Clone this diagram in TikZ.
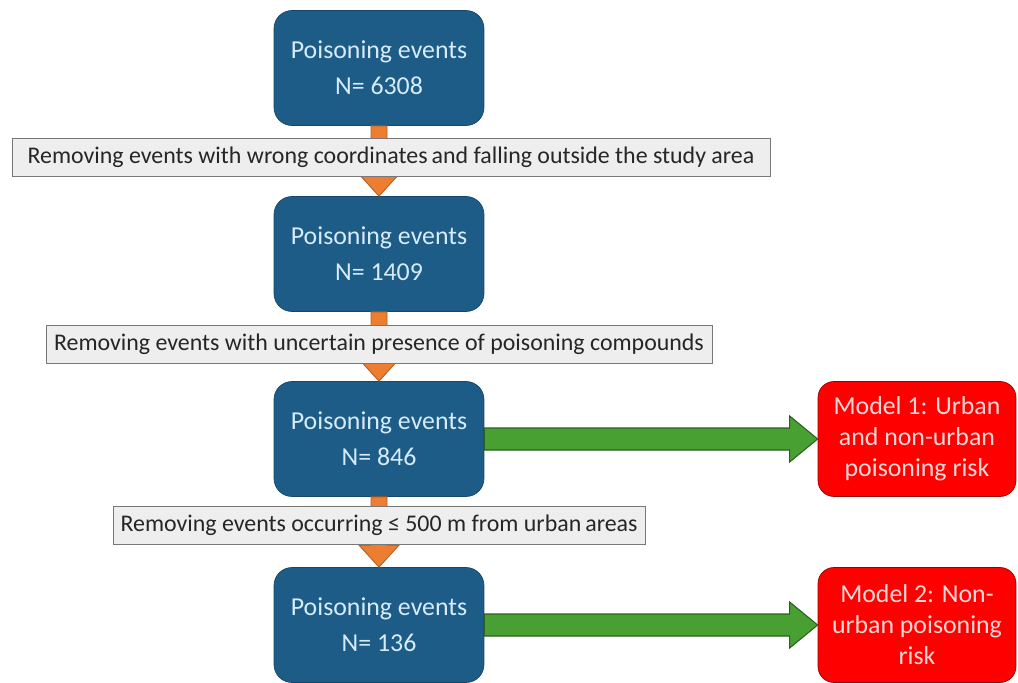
\documentclass[tikz,border=0pt]{standalone}
\usepackage{fontspec}
\setmainfont{Carlito}
\usetikzlibrary{calc}
\definecolor{boxblue}{RGB}{28,92,135}
\definecolor{boxedge}{RGB}{22,70,105}
\definecolor{boxtext}{RGB}{215,235,250}
\definecolor{arrorange}{RGB}{237,125,49}
\definecolor{arrgreen}{RGB}{72,160,50}
\definecolor{modelred}{RGB}{255,0,0}
\definecolor{modeltext}{RGB}{255,215,215}
\definecolor{notefill}{RGB}{238,238,238}
\definecolor{noteedge}{RGB}{120,120,120}

% fat block arrows between named nodes
\newcommand{\arrdown}[2]{%
  \path[draw=arrorange!75!black, fill=arrorange, line width=0.5pt]
    let \p1=(#1.south), \p2=(#2.north) in
    ({\x1-0.16cm},\y1) -- ({\x1+0.16cm},\y1) -- ({\x1+0.16cm},{\y2+0.44cm})
    -- ({\x1+0.4cm},{\y2+0.44cm}) -- (\x1,\y2) -- ({\x1-0.4cm},{\y2+0.44cm})
    -- ({\x1-0.16cm},{\y2+0.44cm}) -- cycle;}
\newcommand{\arrright}[2]{%
  \path[draw=arrgreen!60!black, fill=arrgreen, line width=0.6pt]
    let \p1=(#1.east), \p2=(#2.west) in
    (\x1,{\y1+0.22cm}) -- ({\x2-0.56cm},{\y1+0.22cm}) -- ({\x2-0.56cm},{\y1+0.46cm})
    -- (\x2,\y1) -- ({\x2-0.56cm},{\y1-0.46cm}) -- ({\x2-0.56cm},{\y1-0.22cm})
    -- (\x1,{\y1-0.22cm}) -- cycle;}

\begin{document}
\begin{tikzpicture}[x=0.02cm,y=-0.02cm,
	event/.style={draw=boxedge, fill=boxblue, text=boxtext, rounded corners=0.36cm,
		minimum width=4.2cm, minimum height=2.3cm, align=center,
		font=\fontsize{14.7}{20.5}\selectfont},
	model/.style={draw=modelred!60!black, fill=modelred, text=modeltext, rounded corners=0.32cm,
		minimum width=3.96cm, minimum height=2.3cm, align=center,
		font=\fontsize{14.7}{17.6}\selectfont},
	note/.style={draw=noteedge, fill=notefill, text=black!85, minimum height=0.76cm,
		inner sep=2pt, font=\fontsize{13.6}{16}\selectfont}]
		\useasboundingbox (0,0) rectangle (1018,683);
		
		\node[event] (ev1) at (379,68) {Poisoning events\\N= 6308};
		\node[event] (ev2) at (379,254) {Poisoning events\\N= 1409};
		\node[event] (ev3) at (379,439) {Poisoning events\\N= 846};
		\node[event] (ev4) at (379,625) {Poisoning events\\N= 136};
		
		\node[model] (m1) at (917,439) {Model 1: Urban\\and non-urban\\poisoning risk};
		\node[model] (m2) at (917,625) {Model 2: Non-\\urban poisoning\\risk};
		
		\arrdown{ev1}{ev2}
		\arrdown{ev2}{ev3}
		\arrdown{ev3}{ev4}
		\arrright{ev3}{m1}
		\arrright{ev4}{m2}
		
		\node[note, minimum width=15.16cm] (rm1) at (391,157) {Removing events with wrong coordinates\,and falling outside the study area};
		\node[note, minimum width=13.32cm] (rm2) at (379,344) {Removing events with uncertain presence of poisoning compounds};
		\node[note, minimum width=10.64cm] (rm3) at (379,525) {Removing events occurring ≤ 500 m from urban\,areas};
	\end{tikzpicture}
\end{document}
